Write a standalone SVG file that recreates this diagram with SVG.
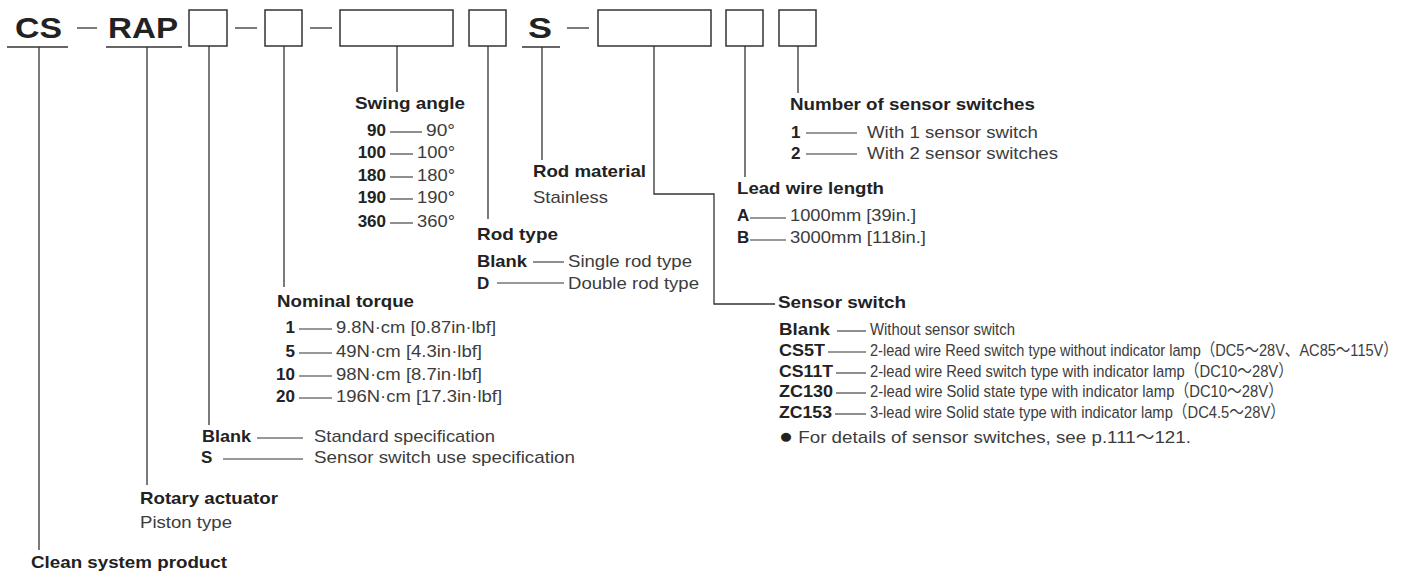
<svg xmlns="http://www.w3.org/2000/svg" width="1416" height="575" viewBox="0 0 1416 575">
<style>
text{font-family:"Liberation Sans",Arial,"Noto Sans CJK JP",sans-serif}
.big{font-size:30px;font-weight:bold;fill:#222}
.t{font-size:17px;font-weight:bold;fill:#222}
.c{font-size:17px;font-weight:bold;fill:#222}
.r{font-size:17px;fill:#3c3c3c}
.s{font-size:16px;fill:#3c3c3c}
.n{font-size:17px;fill:#3c3c3c}
.e{text-anchor:end}
.box{fill:#fff;stroke:#333;stroke-width:1.5}
.ln{stroke:#333;stroke-width:1.3;fill:none}
.d{stroke:#333;stroke-width:1.1;fill:none}
</style>
<rect width="1416" height="575" fill="#fff"/>

<g id="code">
<text class="big" x="15" y="38" textLength="47" lengthAdjust="spacingAndGlyphs">CS</text>
<line class="ln" x1="7" y1="47" x2="68" y2="47"/>
<line class="ln" x1="77" y1="28" x2="97" y2="28"/>
<text class="big" x="108" y="38" textLength="70" lengthAdjust="spacingAndGlyphs">RAP</text>
<line class="ln" x1="106" y1="47" x2="182" y2="47"/>
<rect class="box" x="189" y="10" width="38" height="36"/>
<line class="ln" x1="235" y1="28" x2="257" y2="28"/>
<rect class="box" x="265" y="10" width="37" height="36"/>
<line class="ln" x1="310" y1="28" x2="332" y2="28"/>
<rect class="box" x="340" y="10" width="113" height="36"/>
<rect class="box" x="469" y="10" width="37" height="36"/>
<text class="big" x="528" y="38" textLength="24" lengthAdjust="spacingAndGlyphs">S</text>
<line class="ln" x1="522" y1="47" x2="560" y2="47"/>
<line class="ln" x1="567" y1="28" x2="589" y2="28"/>
<rect class="box" x="598" y="10" width="113" height="36"/>
<rect class="box" x="726" y="10" width="37" height="36"/>
<rect class="box" x="779" y="10" width="37" height="36"/>
</g>

<g id="connectors">
<line class="ln" x1="39" y1="47" x2="39" y2="550"/>
<line class="ln" x1="147" y1="47" x2="147" y2="485"/>
<line class="ln" x1="209" y1="46" x2="209" y2="425"/>
<line class="ln" x1="284" y1="46" x2="284" y2="287"/>
<line class="ln" x1="397" y1="46" x2="397" y2="92"/>
<line class="ln" x1="488" y1="46" x2="488" y2="219"/>
<line class="ln" x1="542" y1="47" x2="542" y2="160"/>
<polyline class="ln" points="654,46 654,194 714,194 714,304 775,304"/>
<line class="ln" x1="745" y1="46" x2="745" y2="177"/>
<line class="ln" x1="798" y1="46" x2="798" y2="93"/>
</g>

<g id="swing-angle">
<text class="t" x="355" y="109" textLength="110" lengthAdjust="spacingAndGlyphs">Swing angle</text>
<text class="c e" x="386" y="136">90</text>
<text class="c e" x="386" y="158">100</text>
<text class="c e" x="386" y="181">180</text>
<text class="c e" x="386" y="203">190</text>
<text class="c e" x="386" y="227">360</text>
<line class="d" x1="390" y1="132" x2="422" y2="132"/>
<line class="d" x1="390" y1="154" x2="413" y2="154"/>
<line class="d" x1="390" y1="177" x2="413" y2="177"/>
<line class="d" x1="390" y1="199" x2="413" y2="199"/>
<line class="d" x1="390" y1="223" x2="413" y2="223"/>
<text class="r" x="426" y="136" textLength="29" lengthAdjust="spacingAndGlyphs">90°</text>
<text class="r" x="417" y="158" textLength="38" lengthAdjust="spacingAndGlyphs">100°</text>
<text class="r" x="417" y="181" textLength="38" lengthAdjust="spacingAndGlyphs">180°</text>
<text class="r" x="417" y="203" textLength="38" lengthAdjust="spacingAndGlyphs">190°</text>
<text class="r" x="417" y="227" textLength="38" lengthAdjust="spacingAndGlyphs">360°</text>
</g>

<g id="rod-material">
<text class="t" x="533" y="177" textLength="113" lengthAdjust="spacingAndGlyphs">Rod material</text>
<text class="r" x="533" y="203" textLength="75" lengthAdjust="spacingAndGlyphs">Stainless</text>
</g>

<g id="rod-type">
<text class="t" x="477" y="240" textLength="81" lengthAdjust="spacingAndGlyphs">Rod type</text>
<text class="c" x="477" y="267" textLength="50" lengthAdjust="spacingAndGlyphs">Blank</text>
<line class="d" x1="533" y1="262" x2="564" y2="262"/>
<text class="r" x="568" y="267" textLength="124" lengthAdjust="spacingAndGlyphs">Single rod type</text>
<text class="c" x="477" y="289">D</text>
<line class="d" x1="497" y1="283" x2="564" y2="283"/>
<text class="r" x="568" y="289" textLength="131" lengthAdjust="spacingAndGlyphs">Double rod type</text>
</g>

<g id="number-of-sensor-switches">
<text class="t" x="790" y="110" textLength="245" lengthAdjust="spacingAndGlyphs">Number of sensor switches</text>
<text class="c" x="791" y="138">1</text>
<line class="d" x1="806" y1="133" x2="857" y2="133"/>
<text class="r" x="867" y="138" textLength="171" lengthAdjust="spacingAndGlyphs">With 1 sensor switch</text>
<text class="c" x="791" y="159">2</text>
<line class="d" x1="806" y1="154" x2="857" y2="154"/>
<text class="r" x="867" y="159" textLength="191" lengthAdjust="spacingAndGlyphs">With 2 sensor switches</text>
</g>

<g id="lead-wire-length">
<text class="t" x="737" y="194" textLength="147" lengthAdjust="spacingAndGlyphs">Lead wire length</text>
<text class="c" x="737" y="221">A</text>
<line class="d" x1="750" y1="218" x2="786" y2="218"/>
<text class="r" x="790" y="221" textLength="126" lengthAdjust="spacingAndGlyphs">1000mm [39in.]</text>
<text class="c" x="737" y="243">B</text>
<line class="d" x1="750" y1="240" x2="786" y2="240"/>
<text class="r" x="790" y="243" textLength="136" lengthAdjust="spacingAndGlyphs">3000mm [118in.]</text>
</g>

<g id="nominal-torque">
<text class="t" x="277" y="307" textLength="137" lengthAdjust="spacingAndGlyphs">Nominal torque</text>
<text class="c e" x="295" y="333">1</text>
<text class="c e" x="295" y="357">5</text>
<text class="c e" x="295" y="380">10</text>
<text class="c e" x="295" y="402">20</text>
<line class="d" x1="299" y1="329" x2="332" y2="329"/>
<line class="d" x1="299" y1="353" x2="332" y2="353"/>
<line class="d" x1="299" y1="376" x2="332" y2="376"/>
<line class="d" x1="299" y1="398" x2="332" y2="398"/>
<text class="s" x="336" y="333" textLength="160" lengthAdjust="spacingAndGlyphs">9.8N·cm [0.87in·lbf]</text>
<text class="s" x="336" y="357" textLength="146" lengthAdjust="spacingAndGlyphs">49N·cm [4.3in·lbf]</text>
<text class="s" x="336" y="380" textLength="146" lengthAdjust="spacingAndGlyphs">98N·cm [8.7in·lbf]</text>
<text class="s" x="336" y="402" textLength="166" lengthAdjust="spacingAndGlyphs">196N·cm [17.3in·lbf]</text>
</g>

<g id="specification">
<text class="c" x="202" y="442" textLength="49" lengthAdjust="spacingAndGlyphs">Blank</text>
<line class="d" x1="257" y1="438" x2="303" y2="438"/>
<text class="r" x="314" y="442" textLength="181" lengthAdjust="spacingAndGlyphs">Standard specification</text>
<text class="c" x="201" y="463">S</text>
<line class="d" x1="223" y1="459" x2="303" y2="459"/>
<text class="r" x="314" y="463" textLength="261" lengthAdjust="spacingAndGlyphs">Sensor switch use specification</text>
</g>

<g id="rotary-actuator">
<text class="t" x="140" y="504" textLength="138" lengthAdjust="spacingAndGlyphs">Rotary actuator</text>
<text class="r" x="140" y="528" textLength="92" lengthAdjust="spacingAndGlyphs">Piston type</text>
</g>

<g id="clean-system-product">
<text class="t" x="31" y="568" textLength="196" lengthAdjust="spacingAndGlyphs">Clean system product</text>
</g>

<g id="sensor-switch">
<text class="t" x="778" y="308" textLength="128" lengthAdjust="spacingAndGlyphs">Sensor switch</text>
<text class="c" x="779" y="335" textLength="51" lengthAdjust="spacingAndGlyphs">Blank</text>
<line class="d" x1="837" y1="331" x2="866" y2="331"/>
<text class="c" x="779" y="356" textLength="46" lengthAdjust="spacingAndGlyphs">CS5T</text>
<line class="d" x1="828" y1="352" x2="866" y2="352"/>
<text class="c" x="779" y="377" textLength="54" lengthAdjust="spacingAndGlyphs">CS11T</text>
<line class="d" x1="836" y1="373" x2="866" y2="373"/>
<text class="c" x="779" y="397" textLength="54" lengthAdjust="spacingAndGlyphs">ZC130</text>
<line class="d" x1="836" y1="393" x2="866" y2="393"/>
<text class="c" x="779" y="418" textLength="53" lengthAdjust="spacingAndGlyphs">ZC153</text>
<line class="d" x1="835" y1="414" x2="866" y2="414"/>
<g transform="scale(0.85,1)">
<text class="n" x="1023.5" y="335" textLength="170.6" lengthAdjust="spacingAndGlyphs">Without sensor switch</text>
<text class="n" x="1023.5" y="356" textLength="621" lengthAdjust="spacingAndGlyphs">2-lead wire Reed switch type without indicator lamp（DC5～28V、AC85～115V）</text>
<text class="n" x="1023.5" y="377" textLength="497.6" lengthAdjust="spacingAndGlyphs">2-lead wire Reed switch type with indicator lamp（DC10～28V）</text>
<text class="n" x="1023.5" y="397" textLength="485.9" lengthAdjust="spacingAndGlyphs">2-lead wire Solid state type with indicator lamp（DC10～28V）</text>
<text class="n" x="1023.5" y="418" textLength="488.2" lengthAdjust="spacingAndGlyphs">3-lead wire Solid state type with indicator lamp（DC4.5～28V）</text>
</g>
<text class="r" x="779" y="443" textLength="412" lengthAdjust="spacingAndGlyphs"><tspan font-size="21" fill="#222">●</tspan> For details of sensor switches, see p.111～121.</text>
</g>
</svg>
